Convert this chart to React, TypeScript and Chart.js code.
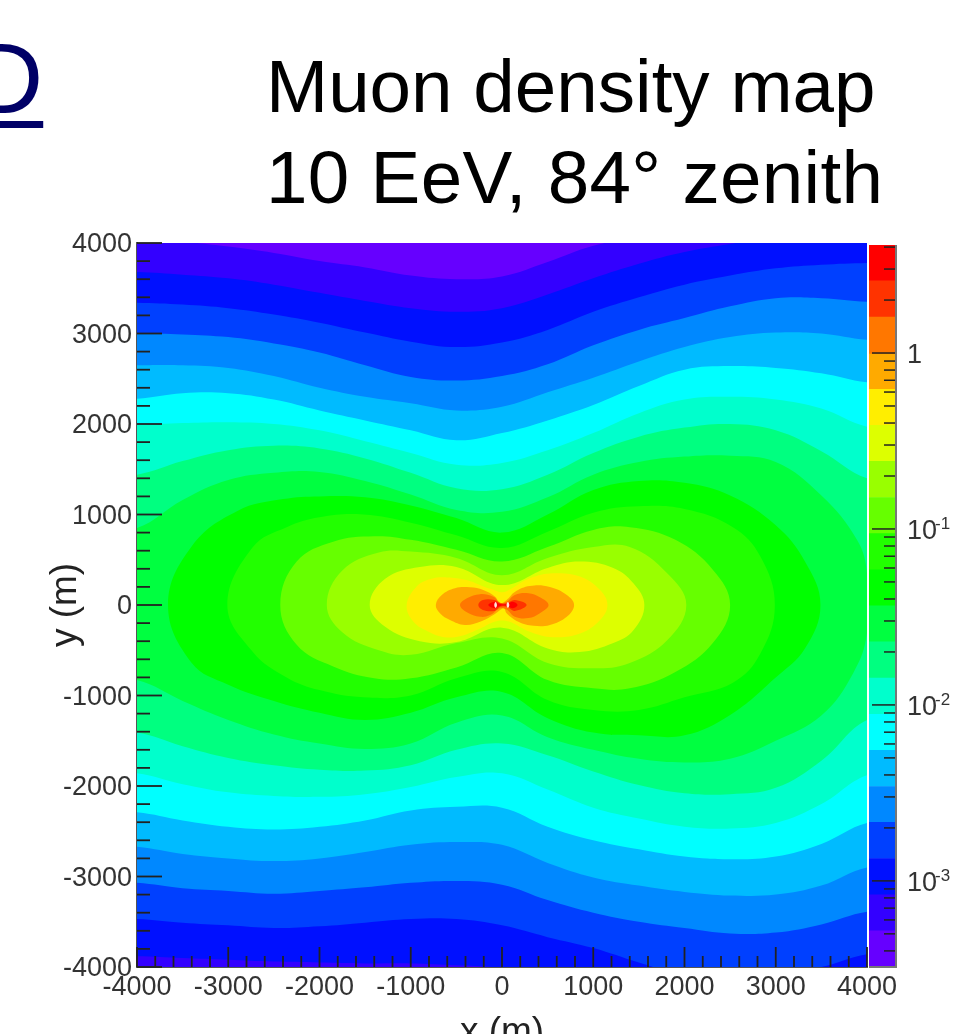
import React, { useEffect, useRef } from "react";
import { Chart, registerables } from "chart.js";

Chart.register(...registerables);

const FONT = '"Liberation Sans", Arial, sans-serif';

const titleLines = ["Muon density map", "10 EeV, 84° zenith"];
const xAxisTitle = "x (m)";
const yAxisTitle = "y (m)";
const axisMinor = [-3800,-3600,-3400,-3200,-2800,-2600,-2400,-2200,-1800,-1600,-1400,-1200,-800,-600,-400,-200,200,400,600,800,1200,1400,1600,1800,2200,2400,2600,2800,3200,3400,3600,3800];
const axisMajor = [-4000,-3000,-2000,-1000,0,1000,2000,3000,4000];

const palette = ["#6600ff","#3300ff","#0010ff","#0040ff","#0088ff","#00bbff","#00ffff","#00ffcc","#00ff80","#00ff40","#00ff00","#22ff00","#66ff00","#99ff00","#ddff00","#ffee00","#ffaa00","#ff7700","#ff3300","#ff0000"];
const barEdges = [0.000324,0.00052,0.000834,0.00134,0.00215,0.00344,0.00552,0.00885,0.0142,0.0228,0.0366,0.0586,0.094,0.151,0.242,0.388,0.622,0.985,1.6,2.57,4.11];
const barMajor = [1,0.1,0.01,0.001];
const barMajorLabels = ["1","10","10","10"];
const barExponents = ["","-1","-2","-3"];
const barMinor = [4,3,2,0.9,0.8,0.7,0.6,0.5,0.4,0.3,0.2,0.09,0.08,0.07,0.06,0.05,0.04,0.03,0.02,0.009,0.008,0.007,0.006,0.005,0.004,0.003,0.002,0.0009,0.0008,0.0007,0.0006,0.0005,0.0004];

const columns = [-4000,-3500,-3000,-2500,-2000,-1500,-1000,-500,0,500,1000,1500,2000,2500,3000,3500,4000];

const up1 = [4090,4020,3960,3890,3800,3730,3640,3600,3630,3790,3970,4060,4140,4170,4200,4200,4200];
const lo1 = [-4400,-4400,-4400,-4400,-4400,-4400,-4400,-4400,-4400,-4400,-4400,-4400,-4400,-4400,-4400,-4400,-4400];
const up2 = [3680,3650,3610,3540,3450,3360,3280,3240,3280,3430,3610,3770,3900,3990,4060,4100,4120];
const lo2 = [-3880,-3900,-3920,-3940,-3950,-3960,-3960,-3980,-4010,-4090,-4200,-4250,-4250,-4280,-4250,-4250,-4200];
const up3 = [3340,3320,3280,3210,3120,3010,2910,2850,2900,3040,3240,3400,3540,3640,3720,3760,3780];
const lo3 = [-3470,-3510,-3540,-3570,-3550,-3510,-3470,-3470,-3540,-3670,-3790,-3950,-4090,-4110,-4060,-4000,-3860];
const up4 = [3000,2990,2960,2890,2790,2650,2520,2480,2530,2660,2870,3040,3170,3300,3390,3390,3350];
const lo4 = [-3070,-3130,-3160,-3190,-3160,-3120,-3070,-3050,-3090,-3260,-3400,-3500,-3570,-3630,-3620,-3530,-3390];
const up5 = [2650,2650,2620,2530,2400,2300,2230,2150,2190,2350,2510,2690,2850,2960,3010,3000,2930];
const lo5 = [-2670,-2750,-2800,-2830,-2800,-2730,-2650,-2620,-2650,-2850,-3010,-3100,-3170,-3210,-3200,-3100,-2900];
const up6 = [2280,2340,2340,2270,2150,2040,1930,1820,1900,2040,2210,2420,2600,2640,2620,2560,2460];
const lo6 = [-2290,-2380,-2450,-2480,-2450,-2380,-2270,-2230,-2240,-2450,-2600,-2700,-2780,-2810,-2780,-2640,-2410];
const up7 = [1990,2010,2020,2000,1930,1810,1680,1550,1570,1710,1900,2120,2270,2300,2270,2170,1970];
const lo7 = [-1860,-1980,-2070,-2110,-2120,-2090,-2010,-1900,-1860,-2040,-2240,-2360,-2450,-2470,-2410,-2200,-1880];
const up8 = [1440,1590,1710,1760,1730,1620,1460,1290,1280,1440,1680,1860,1960,2000,1930,1700,1400];
const lo8 = [-1410,-1560,-1690,-1770,-1820,-1830,-1770,-1600,-1530,-1660,-1840,-1990,-2080,-2090,-2020,-1720,-1270];

const c9x = [-4400,-4000,-3500,-3000,-2500,-2000,-1500,-1000,-500,0,500,1000,1500,2000,2500,3000,3500,3890,4000,4000,3850,3500,3000,2500,2000,1500,1000,500,0,-500,-1000,-1500,-2000,-2500,-3000,-3500,-4000,-4400];
const c9y = [850,850,1160,1380,1460,1470,1370,1220,1050,1030,1190,1440,1580,1640,1650,1580,1210,720,350,-310,-750,-1220,-1500,-1700,-1740,-1700,-1600,-1460,-1220,-1300,-1530,-1590,-1530,-1430,-1270,-1060,-830,-830];
const c10x = [-3660,-3400,-2900,-2400,-2000,-1500,-1000,-500,0,500,1000,1500,2000,2500,3000,3320,3490,3320,3000,2500,2000,1500,1000,500,0,-500,-1000,-1500,-2000,-2500,-3000,-3400];
const c10y = [0,650,1040,1170,1200,1190,1100,960,800,1000,1270,1370,1350,1210,880,480,0,-480,-800,-1215,-1440,-1440,-1410,-1250,-960,-1020,-1190,-1270,-1190,-1060,-880,-640];
const c11x = [-3010,-2730,-2360,-2000,-1520,-1000,-500,0,500,1000,1500,2000,2530,2830,2990,2830,2530,2000,1500,1000,500,0,-500,-1000,-1520,-2000,-2360,-2730];
const c11y = [0,640,860,970,1000,910,770,630,810,1020,1090,1060,860,540,0,-540,-860,-1020,-1160,-1160,-1050,-740,-810,-1000,-1020,-940,-800,-520];
const c12x = [-2430,-2250,-1850,-1400,-1000,-500,0,500,1000,1400,1900,2310,2500,2310,1900,1400,1000,500,0,-500,-1000,-1400,-1850,-2250];
const c12y = [0,480,700,760,720,610,480,640,830,860,720,390,0,-420,-740,-920,-920,-830,-530,-690,-810,-810,-680,-440];
const c13x = [-1920,-1750,-1350,-1000,-500,0,500,1000,1400,1810,2020,1810,1400,1000,500,0,-500,-1000,-1350,-1750];
const c13y = [0,380,580,590,520,330,520,640,640,350,0,-390,-640,-700,-640,-370,-420,-550,-500,-300];
const c14x = [-1450,-1280,-900,-500,0,500,850,1220,1440,1560,1440,1220,850,500,0,-500,-900,-1280];
const c14y = [0,290,420,420,220,410,480,410,240,0,-280,-420,-520,-480,-250,-410,-400,-240];
const c15x = [-1045,-935,-790,-605,-390,-205,-100,0,100,305,560,855,1075,1155,1075,855,560,305,100,0,-100,-240,-460,-635,-805,-970];
const c15y = [0,205,285,305,275,205,170,140,180,295,350,315,165,0,-165,-315,-355,-295,-190,-170,-190,-260,-345,-355,-295,-185];
const c16x = [-725,-660,-515,-350,-205,-75,-20,50,140,305,525,710,790,710,525,345,180,50,20,-95,-240,-405,-570,-680];
const c16y = [0,110,185,195,165,90,20,55,145,210,200,110,0,-130,-220,-230,-185,-90,-35,-110,-185,-220,-165,-90];
const c17x = [-460,-385,-240,-95,-20,50,140,290,415,510,415,290,140,50,-20,-130,-240,-385];
const c17y = [0,75,120,90,25,35,110,130,85,0,-90,-145,-130,-50,-35,-110,-130,-80];
const c18x = [-260,-210,-80,-20,50,140,270,140,50,-20,-80,-210];
const c18y = [0,55,55,20,20,55,0,-65,-20,-20,-65,-55];
const c19x = [-150,-80,-20,50,120,170,120,50,-20,-80];
const c19y = [0,35,10,10,35,0,-35,-10,-10,-35];
const spotLeftX = [-85,-70,-55,-70];
const spotRightX = [50,65,80,65];
const spotY = [0,32,0,-32];

const baseX = [-4400,4400,4400,-4400];
const baseY = [4400,4400,-4400,-4400];

function band(up: number[], lo: number[]) {
  const x = [-4400, ...columns, 4400, 4400, ...[...columns].reverse(), -4400];
  const y = [up[0], ...up, up[up.length - 1], lo[lo.length - 1], ...[...lo].reverse(), lo[0]];
  return { x, y };
}

// A closed contour repeats its neighbours over the seam, so the spline has no corner there.
function loop(x: number[], y: number[]) {
  const n = x.length;
  return {
    x: [x[n - 1], ...x, x[0], x[1]],
    y: [y[n - 1], ...y, y[0], y[1]],
  };
}

const regions: { x: number[]; y: number[]; color: string }[] = [
  { x: baseX, y: baseY, color: palette[0] },
  { ...band(up1, lo1), color: palette[1] },
  { ...band(up2, lo2), color: palette[2] },
  { ...band(up3, lo3), color: palette[3] },
  { ...band(up4, lo4), color: palette[4] },
  { ...band(up5, lo5), color: palette[5] },
  { ...band(up6, lo6), color: palette[6] },
  { ...band(up7, lo7), color: palette[7] },
  { ...band(up8, lo8), color: palette[8] },
  { x: c9x, y: c9y, color: palette[9] },
  { ...loop(c10x, c10y), color: palette[10] },
  { ...loop(c11x, c11y), color: palette[11] },
  { ...loop(c12x, c12y), color: palette[12] },
  { ...loop(c13x, c13y), color: palette[13] },
  { ...loop(c14x, c14y), color: palette[14] },
  { ...loop(c15x, c15y), color: palette[15] },
  { ...loop(c16x, c16y), color: palette[16] },
  { ...loop(c17x, c17y), color: palette[17] },
  { ...loop(c18x, c18y), color: palette[18] },
  { ...loop(c19x, c19y), color: palette[19] },
  { ...loop(spotLeftX, spotY), color: "#ffe6d8" },
  { ...loop(spotRightX, spotY), color: "#ffe6d8" },
];

const TICK = "#222222";
const LABEL = "#333333";

const mainTicks = {
  id: "mainTicks",
  afterDraw(chart: any) {
    const { ctx, scales, chartArea } = chart;
    ctx.save();
    ctx.strokeStyle = TICK;
    ctx.lineWidth = 1.8;
    const seg = (a: number, b: number, c: number, d: number) => {
      ctx.beginPath();
      ctx.moveTo(a, b);
      ctx.lineTo(c, d);
      ctx.stroke();
    };
    for (const v of axisMajor) {
      const py = scales.y.getPixelForValue(v);
      seg(chartArea.left, py, chartArea.left + 25, py);
      const px = scales.x.getPixelForValue(v);
      seg(px, chartArea.bottom, px, chartArea.bottom - 20);
    }
    for (const v of axisMinor) {
      const py = scales.y.getPixelForValue(v);
      seg(chartArea.left, py, chartArea.left + 13, py);
      const px = scales.x.getPixelForValue(v);
      seg(px, chartArea.bottom, px, chartArea.bottom - 11);
    }
    ctx.restore();
  },
};

const barTicks = {
  id: "barTicks",
  afterDraw(chart: any) {
    const { ctx, scales, chartArea } = chart;
    ctx.save();
    ctx.strokeStyle = TICK;
    ctx.lineWidth = 1.5;
    const seg = (py: number, len: number) => {
      ctx.beginPath();
      ctx.moveTo(chartArea.right, py);
      ctx.lineTo(chartArea.right - len, py);
      ctx.stroke();
    };
    for (const v of barMajor) seg(scales.y.getPixelForValue(v), 24);
    for (const v of barMinor) seg(scales.y.getPixelForValue(v), 12);
    ctx.strokeStyle = "#777777";
    ctx.lineWidth = 2;
    ctx.beginPath();
    ctx.moveTo(chartArea.right, chartArea.top);
    ctx.lineTo(chartArea.right, chartArea.bottom);
    ctx.lineTo(chartArea.left, chartArea.bottom);
    ctx.stroke();
    ctx.fillStyle = LABEL;
    ctx.font = `17px ${FONT}`;
    ctx.textBaseline = "middle";
    ctx.textAlign = "left";
    barMajor.forEach((v, i) => {
      if (barExponents[i]) ctx.fillText(barExponents[i], chartArea.right + 39, scales.y.getPixelForValue(v) - 5);
    });
    ctx.restore();
  },
};

export default function App() {
  const mainRef = useRef<HTMLCanvasElement>(null);
  const barRef = useRef<HTMLCanvasElement>(null);

  useEffect(() => {
    const main = new Chart(mainRef.current!, {
      type: "scatter",
      data: {
        datasets: regions.map((r, i) => ({
          data: r.x.map((x, k) => ({ x, y: r.y[k] })),
          showLine: true,
          fill: "shape",
          backgroundColor: r.color,
          borderColor: r.color,
          borderWidth: 0,
          pointRadius: 0,
          order: regions.length - i,
        })),
      } as any,
      plugins: [mainTicks],
      options: {
        responsive: false,
        animation: false,
        devicePixelRatio: 1,
        elements: { line: { tension: 0.4, capBezierPoints: false } },
        layout: { padding: { top: 243, right: 87, left: 0, bottom: 0 } },
        plugins: { legend: { display: false }, tooltip: { enabled: false } },
        scales: {
          x: {
            type: "linear",
            min: -4000,
            max: 4000,
            grid: { display: false, drawTicks: false },
            border: { display: true, color: "#555555", width: 2 },
            afterFit: (s: any) => { s.height = 88; },
            afterBuildTicks: (s: any) => { s.ticks = axisMajor.map((value) => ({ value })); },
            ticks: { padding: 4, color: LABEL, font: { family: FONT, size: 27 }, maxRotation: 0, autoSkip: false, callback: (v: any) => String(v) },
            title: { display: true, text: xAxisTitle, color: "#222222", font: { family: FONT, size: 37 }, padding: 0 },
          },
          y: {
            type: "linear",
            min: -4000,
            max: 4000,
            grid: { display: false, drawTicks: false },
            border: { display: true, color: "#555555", width: 2 },
            afterFit: (s: any) => { s.width = 137; },
            afterBuildTicks: (s: any) => { s.ticks = axisMajor.map((value) => ({ value })); },
            ticks: { padding: 5, labelOffset: 2, color: LABEL, font: { family: FONT, size: 27 }, autoSkip: false, callback: (v: any) => String(v) },
            title: { display: true, text: yAxisTitle, color: "#222222", font: { family: FONT, size: 37 }, padding: { top: 44, bottom: 0 } },
          },
        },
      } as any,
    });

    const bar = new Chart(barRef.current!, {
      type: "bar",
      data: {
        labels: ["density"],
        datasets: palette.map((color, i) => ({
          data: [[barEdges[i], barEdges[i + 1]]],
          backgroundColor: color,
          borderWidth: 0,
          barPercentage: 1,
          categoryPercentage: 1,
          grouped: false,
        })),
      } as any,
      plugins: [barTicks],
      options: {
        responsive: false,
        animation: false,
        devicePixelRatio: 1,
        layout: { padding: { top: 245, right: 0, left: 869, bottom: 67 } },
        plugins: { legend: { display: false }, tooltip: { enabled: false } },
        scales: {
          x: { display: false },
          y: {
            type: "logarithmic",
            position: "right",
            bounds: "data",
            min: barEdges[0],
            max: barEdges[barEdges.length - 1],
            grid: { display: false, drawTicks: false },
            border: { display: false },
            afterFit: (s: any) => { s.width = 58; },
            afterBuildTicks: (s: any) => { s.ticks = barMajor.map((value) => ({ value })); },
            ticks: {
              padding: 11,
              labelOffset: 3,
              color: LABEL,
              font: { family: FONT, size: 27 },
              autoSkip: false,
              callback: (v: any) => barMajorLabels[barMajor.indexOf(v)],
            },
          },
        },
      } as any,
    });

    return () => {
      main.destroy();
      bar.destroy();
    };
  }, []);

  const text: React.CSSProperties = {
    position: "absolute",
    fontFamily: FONT,
    whiteSpace: "nowrap",
    color: "#000",
  };

  return (
    <div style={{ position: "fixed", left: 0, top: 0, width: 954, height: 1034, overflow: "hidden", background: "#fff" }}>
      <canvas ref={mainRef} width={954} height={1055} style={{ position: "absolute", left: 0, top: 0, display: "block" }} />
      <canvas ref={barRef} width={954} height={1034} style={{ position: "absolute", left: 0, top: 0, display: "block" }} />
      <div style={{ ...text, left: -29, top: 22, fontSize: 100, lineHeight: "112px", color: "#000066", textDecoration: "underline", textDecorationThickness: 7, textUnderlineOffset: 8 }}>D</div>
      <div style={{ ...text, left: 266, top: 41, fontSize: 74.6, lineHeight: "91px" }}>{titleLines[0]}</div>
      <div style={{ ...text, left: 266, top: 132, fontSize: 74.6, lineHeight: "91px", letterSpacing: 0.3 }}>{titleLines[1]}</div>
    </div>
  );
}
